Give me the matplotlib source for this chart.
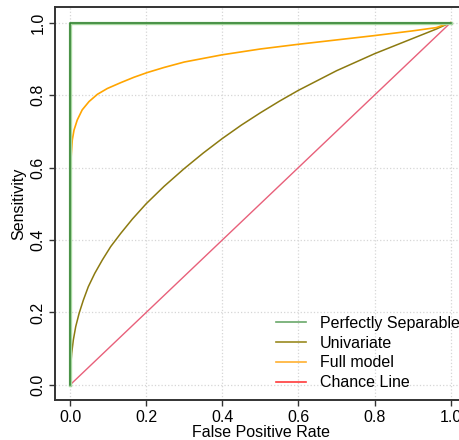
import matplotlib
matplotlib.use("Agg")
import matplotlib.pyplot as plt
from matplotlib.lines import Line2D

plt.rcParams['font.family'] = ['Liberation Sans', 'DejaVu Sans']

# ROC curves
perfect_fpr = [0.0, 0.0, 1.0]
perfect_tpr = [0.0, 1.0, 1.0]

uni_fpr = [0.0, 0.0017, 0.0044, 0.0087, 0.015, 0.024, 0.035, 0.048, 0.065,
           0.085, 0.107, 0.133, 0.164, 0.2, 0.247, 0.3, 0.35, 0.4, 0.45,
           0.5, 0.55, 0.6, 0.7, 0.8, 0.9, 0.962, 1.0]
uni_tpr = [0.0, 0.05, 0.087, 0.124, 0.161, 0.198, 0.234, 0.271, 0.308,
           0.345, 0.382, 0.418, 0.458, 0.5, 0.548, 0.597, 0.64, 0.68, 0.717,
           0.751, 0.783, 0.813, 0.867, 0.914, 0.956, 0.982, 1.0]

full_fpr = [0.0, 0.0, 0.0017, 0.0035, 0.006, 0.0105, 0.019, 0.032, 0.05,
            0.072, 0.098, 0.133, 0.168, 0.203, 0.247, 0.3, 0.4, 0.5, 0.6,
            0.7, 0.8, 0.9, 0.962, 1.0]
full_tpr = [0.0, 0.55, 0.602, 0.639, 0.676, 0.703, 0.731, 0.759, 0.782,
            0.802, 0.818, 0.834, 0.849, 0.862, 0.876, 0.891, 0.911, 0.927, 0.94,
            0.952, 0.964, 0.977, 0.986, 1.0]

chance_fpr = [0.0, 1.0]
chance_tpr = [0.0, 1.0]

labels = ["Perfectly Separable", "Univariate", "Full model", "Chance Line"]
line_colors = ["#2f7f2f", "#8c7a10", "#ffa500", "#e8607a"]
legend_colors = ["#6aa86a", "#9a8a20", "#ffb030", "#ff3b3b"]

fig = plt.figure(figsize=(4.59, 4.4), dpi=100)
ax = fig.add_axes([55 / 459, 40 / 440, 411 / 459, 392.7 / 440])

kw = dict(solid_joinstyle="round", solid_capstyle="round")
ax.plot(chance_fpr, chance_tpr, color=line_colors[3], lw=1.0, **kw)
ax.plot(uni_fpr, uni_tpr, color=line_colors[1], lw=1.1, **kw)
ax.plot(full_fpr, full_tpr, color=line_colors[2], lw=1.2, **kw)
ax.plot(perfect_fpr, perfect_tpr, color="#a8d8a0", lw=2.4)
ax.plot(perfect_fpr, perfect_tpr, color=line_colors[0], lw=1.1)

ax.set_xlim(-0.0394, 1.04)
ax.set_ylim(-0.0414, 1.042)
ticks = [0.0, 0.2, 0.4, 0.6, 0.8, 1.0]
ax.set_xticks(ticks)
ax.set_yticks(ticks)
ax.set_xticklabels([f"{t:.1f}" for t in ticks])
ax.set_yticklabels([f"{t:.1f}" for t in ticks], rotation=90, va="center")
ax.tick_params(direction="out", length=4, width=1, colors="#333333",
               labelsize=11.5, labelcolor="black", pad=3)
ax.grid(True, color="#d6d6d6", linestyle=":", linewidth=0.9)
ax.set_axisbelow(True)
for side in ["left", "bottom", "top"]:
    ax.spines[side].set_color("#333333")
    ax.spines[side].set_linewidth(1.4)
ax.spines["right"].set_visible(False)

ax.set_xlabel("False Positive Rate", fontsize=11.5, labelpad=0.5)
ax.set_ylabel("Sensitivity", fontsize=11.5, labelpad=3)

handles = [Line2D([0], [0], color=c, lw=1.2) for c in legend_colors]
ax.legend(handles, labels, loc="lower left", bbox_to_anchor=(0.538, 0.025),
          frameon=False, fontsize=11.5, handlelength=1.9, handletextpad=0.85,
          labelspacing=0.3, borderpad=0, borderaxespad=0)

fig.savefig("out.png", dpi=100)
